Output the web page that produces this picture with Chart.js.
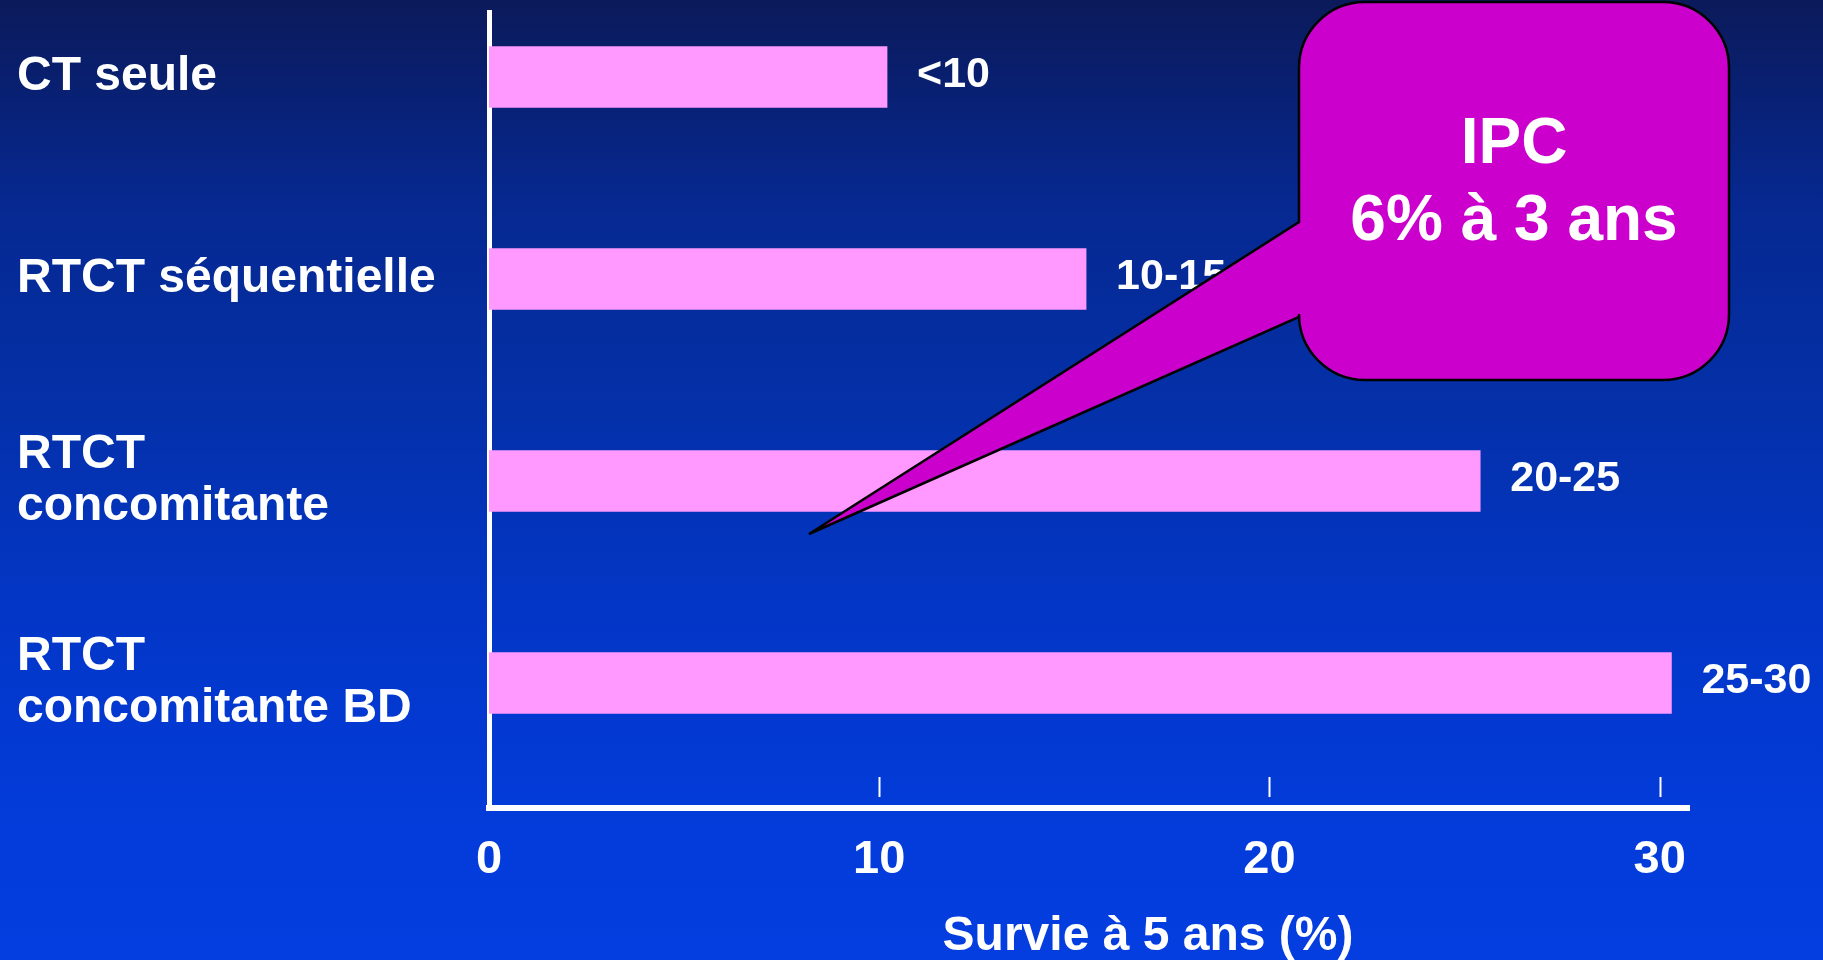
<!DOCTYPE html>
<html>
<head>
<meta charset="utf-8">
<script src="https://cdn.jsdelivr.net/npm/chart.js@4.4.1/dist/chart.umd.min.js"></script>
<style>
  html, body { margin: 0; padding: 0; background: #0b1a5a; }
  #wrap { width: 1823px; height: 960px; }
</style>
</head>
<body>
<div id="wrap"><canvas id="survieChart" width="1823" height="960"></canvas></div>
<script>
// data
const categories = ['CT seule', 'RTCT séquentielle', ['RTCT', 'concomitante'], ['RTCT', 'concomitante BD']];
const survie = [10.2, 15.3, 25.4, 30.3];
const survieLabels = ['<10', '10-15', '20-25', '25-30'];
const xTicks = [0, 10, 20, 30];
const axisTitle = 'Survie à 5 ans (%)';
const calloutLines = ['IPC', '6% à 3 ans'];

const FONT = "'Liberation Sans', Arial, sans-serif";

// slide background gradient
const background = {
    id: 'background',
    beforeDraw(chart) {
        const { ctx, width, height } = chart;
        const g = ctx.createLinearGradient(0, 0, 0, height);
        g.addColorStop(0, '#0b1a5a');
        g.addColorStop(0.21, '#062890');
        g.addColorStop(0.42, '#0430a8');
        g.addColorStop(0.63, '#0336c6');
        g.addColorStop(0.83, '#033bd8');
        g.addColorStop(1, '#043ee0');
        ctx.save();
        ctx.fillStyle = g;
        ctx.fillRect(0, 0, width, height);
        ctx.restore();
    }
};

// values written next to each bar
const valueLabels = {
    id: 'valueLabels',
    afterDatasetsDraw(chart) {
        const { ctx } = chart;
        const meta = chart.getDatasetMeta(0);
        ctx.save();
        ctx.font = `bold 43px ${FONT}`;
        ctx.fillStyle = '#ffffff';
        ctx.textAlign = 'left';
        ctx.textBaseline = 'middle';
        meta.data.forEach((bar, i) => {
            ctx.fillText(survieLabels[i], bar.x + 30, bar.y - 2);
        });
        ctx.restore();
    }
};

// small tick marks standing inside the plot, plus the axis title
const axisExtras = {
    id: 'axisExtras',
    afterDraw(chart) {
        const { ctx, chartArea } = chart;
        const xScale = chart.scales.x;
        ctx.save();
        ctx.strokeStyle = '#ffffff';
        ctx.lineWidth = 2;
        xTicks.filter(v => v > 0).forEach(v => {
            const x = Math.round(xScale.getPixelForValue(v)) + 0.5;
            ctx.beginPath();
            ctx.moveTo(x, chartArea.bottom - 31);
            ctx.lineTo(x, chartArea.bottom - 11);
            ctx.stroke();
        });
        ctx.font = `bold 48px ${FONT}`;
        ctx.fillStyle = '#ffffff';
        ctx.textAlign = 'center';
        ctx.textBaseline = 'alphabetic';
        ctx.fillText(axisTitle, chartArea.left + 659, 950);
        ctx.restore();
    }
};

// magenta speech bubble
const callout = {
    id: 'callout',
    afterDraw(chart) {
        const { ctx } = chart;
        const L = 1299, R = 1729, T = 2, B = 380, r = 66;
        const tipX = 809, tipY = 534, attachTop = 222, attachBottom = 317;
        ctx.save();
        ctx.beginPath();
        ctx.moveTo(tipX, tipY);
        ctx.lineTo(L, attachTop);
        ctx.lineTo(L, T + r);
        ctx.arcTo(L, T, L + r, T, r);
        ctx.lineTo(R - r, T);
        ctx.arcTo(R, T, R, T + r, r);
        ctx.lineTo(R, B - r);
        ctx.arcTo(R, B, R - r, B, r);
        ctx.lineTo(L + r, B);
        ctx.arcTo(L, B, L, B - r, r);
        ctx.lineTo(L, attachBottom);
        ctx.closePath();
        ctx.fillStyle = '#cc00cc';
        ctx.fill();
        ctx.lineWidth = 2.5;
        ctx.lineJoin = 'miter';
        ctx.strokeStyle = '#000000';
        ctx.stroke();

        ctx.font = `bold 64px ${FONT}`;
        ctx.fillStyle = '#ffffff';
        ctx.textAlign = 'center';
        ctx.textBaseline = 'alphabetic';
        ctx.fillText(calloutLines[0], (L + R) / 2, 163);
        ctx.fillText(calloutLines[1], (L + R) / 2, 240);
        ctx.restore();
    }
};

const ctx = document.getElementById('survieChart').getContext('2d');
const chart = new Chart(ctx, {
    type: 'bar',
    data: {
        datasets: [{
            label: 'Survie à 5 ans',
            data: survie.map((v, i) => ({ x: v, y: i })),
            backgroundColor: '#ff99ff',
            borderWidth: 0,
            barThickness: 61
        }]
    },
    options: {
        indexAxis: 'y',
        responsive: false,
        animation: false,
        layout: { padding: { left: 17, top: 12, right: 134, bottom: 0 } },
        plugins: {
            legend: { display: false },
            tooltip: { enabled: false }
        },
        scales: {
            x: {
                type: 'linear',
                position: 'bottom',
                min: 0,
                max: 30.75,
                offset: false,
                grid: { display: false },
                border: { display: true, color: '#ffffff', width: 6 },
                afterBuildTicks: (scale) => { scale.ticks = xTicks.map(v => ({ value: v })); },
                afterFit: (scale) => {
                    scale.height = 152;
                    scale.paddingLeft = 0;
                    scale.paddingRight = 0;
                },
                ticks: {
                    color: '#ffffff',
                    padding: 16,
                    maxRotation: 0,
                    font: { family: FONT, size: 47, weight: 'bold' }
                }
            },
            y: {
                type: 'linear',
                position: 'left',
                reverse: true,
                min: -0.322,
                max: 3.619,
                offset: false,
                grace: 0,
                grid: { display: false, offset: false },
                border: { display: true, color: '#ffffff', width: 5 },
                afterBuildTicks: (scale) => { scale.ticks = categories.map((c, i) => ({ value: i })); },
                afterFit: (scale) => {
                    scale.width = 472;
                    scale.paddingTop = 0;
                    scale.paddingBottom = 0;
                },
                ticks: {
                    color: '#ffffff',
                    crossAlign: 'far',
                    padding: 20,
                    font: { family: FONT, size: 48, weight: 'bold', lineHeight: 1.08 },
                    callback: (v) => categories[v]
                }
            }
        }
    },
    plugins: [background, valueLabels, axisExtras, callout]
});
</script>
</body>
</html>
